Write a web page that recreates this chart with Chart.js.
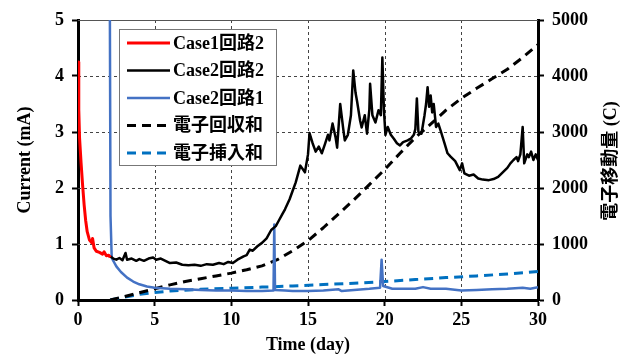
<!DOCTYPE html>
<html>
<head>
<meta charset="utf-8">
<script src="https://cdn.jsdelivr.net/npm/chart.js@4.4.1/dist/chart.umd.min.js"></script>
<style>
html, body { margin: 0; padding: 0; background: #fff; }
</style>
</head>
<body>
<canvas id="CurrentChart" width="621" height="356"></canvas>
<script>
// [day, mA]
const case1_circuit2 = [
    [0, 4.25], [0.05, 3.4], [0.1, 2.9], [0.2, 2.45], [0.3, 2.05], [0.4, 1.7], [0.5, 1.42], [0.6, 1.22],
    [0.75, 1.07], [0.9, 1.02], [0.95, 1.1], [1.05, 0.93], [1.2, 0.87], [1.4, 0.85], [1.6, 0.82],
    [1.7, 0.86], [1.85, 0.79], [2.0, 0.8], [2.1, 0.76]
];

const case2_circuit2 = [
    [2.1, 0.78], [2.3, 0.74], [2.5, 0.72], [2.7, 0.75], [2.9, 0.71], [3.1, 0.84], [3.2, 0.72], [3.5, 0.74],
    [3.8, 0.70], [4.0, 0.73], [4.3, 0.70], [4.6, 0.74], [4.9, 0.76], [5.1, 0.72], [5.4, 0.74], [5.7, 0.70],
    [6.0, 0.66], [6.4, 0.67], [6.8, 0.63], [7.2, 0.62], [7.6, 0.63], [8.0, 0.61], [8.4, 0.64], [8.8, 0.63],
    [9.2, 0.66], [9.5, 0.64], [9.8, 0.68], [10.1, 0.66], [10.4, 0.72], [10.8, 0.78], [11.0, 0.80],
    [11.2, 0.90], [11.4, 0.88], [11.7, 0.96], [12.0, 1.02], [12.3, 1.10], [12.6, 1.25], [12.9, 1.32],
    [13.1, 1.42], [13.3, 1.52], [13.5, 1.62], [13.8, 1.80], [14.0, 1.95], [14.2, 2.10], [14.5, 2.40],
    [14.8, 2.28], [15.0, 2.60], [15.1, 2.98], [15.3, 2.80], [15.5, 2.65], [15.7, 2.74], [15.9, 2.62],
    [16.1, 2.78], [16.3, 2.95], [16.4, 2.85], [16.6, 3.15], [16.8, 2.90], [16.9, 2.72], [17.1, 3.50],
    [17.3, 3.05], [17.4, 2.85], [17.6, 2.95], [17.8, 3.30], [17.95, 4.10], [18.1, 3.70], [18.2, 3.55],
    [18.4, 3.20], [18.5, 3.08], [18.7, 3.30], [18.85, 2.97], [19.0, 3.40], [19.05, 3.86], [19.2, 3.30],
    [19.4, 3.17], [19.6, 3.39], [19.75, 3.30], [19.85, 4.33], [19.95, 3.40], [20.05, 2.95], [20.2, 3.09],
    [20.4, 2.95], [20.6, 2.88], [20.8, 2.80], [21.0, 2.76], [21.2, 2.82], [21.5, 2.85], [21.7, 2.88],
    [21.9, 2.95], [22.0, 3.05], [22.1, 3.60], [22.2, 3.00], [22.4, 2.97], [22.6, 3.30], [22.7, 3.50],
    [22.8, 3.80], [22.9, 3.45], [23.0, 3.65], [23.1, 3.35], [23.2, 3.50], [23.35, 3.09], [23.5, 3.15],
    [23.7, 2.98], [23.9, 2.80], [24.1, 2.62], [24.3, 2.56], [24.6, 2.48], [24.9, 2.32], [25.05, 2.44],
    [25.2, 2.26], [25.5, 2.22], [25.8, 2.24], [26.1, 2.17], [26.4, 2.15], [26.8, 2.14], [27.1, 2.16],
    [27.4, 2.20], [27.7, 2.28], [28.0, 2.36], [28.2, 2.44], [28.4, 2.50], [28.6, 2.55], [28.7, 2.48],
    [28.85, 2.60], [29.0, 3.09], [29.1, 2.44], [29.3, 2.60], [29.4, 2.55], [29.55, 2.65], [29.7, 2.50],
    [29.85, 2.60], [30.0, 2.50]
];

const case2_circuit1 = [
    [2.08, 5.0], [2.12, 1.5], [2.2, 0.75], [2.5, 0.6], [2.8, 0.5], [3.2, 0.4], [3.6, 0.33], [4.0, 0.28],
    [4.5, 0.24], [5, 0.22], [6, 0.2], [7, 0.19], [8, 0.18], [9, 0.17], [10, 0.17], [11, 0.16], [12, 0.16],
    [12.75, 0.17], [12.8, 1.35], [12.85, 0.18], [13.5, 0.17], [14, 0.16], [15, 0.16], [16, 0.17],
    [17, 0.19], [17.2, 0.16], [18, 0.18], [19, 0.2], [19.7, 0.22], [19.8, 0.72], [19.9, 0.25],
    [20.5, 0.2], [21, 0.2], [22, 0.2], [22.5, 0.23], [23, 0.2], [24, 0.2], [25, 0.17], [26, 0.18],
    [27, 0.19], [28, 0.2], [29, 0.22], [29.5, 0.2], [30, 0.23]
];

// [day, C]
const charge_collected = [
    [2.1, 0], [3, 60], [4, 130], [5, 200], [6, 270], [7, 330], [8, 380], [9, 430], [10, 480], [11, 540],
    [12, 610], [13, 720], [14, 880], [15, 1060], [16, 1290], [17, 1540], [18, 1790], [19, 2060],
    [20, 2330], [21, 2620], [22, 2900], [23, 3140], [24, 3390], [25, 3600], [26, 3780], [27, 3950],
    [28, 4120], [29, 4330], [30, 4560]
];

const charge_inserted = [
    [2.1, 0], [3, 50], [4, 100], [5, 135], [6, 160], [8, 190], [10, 210], [12, 230], [14, 250],
    [16, 275], [18, 300], [20, 330], [22, 365], [24, 400], [26, 430], [28, 465], [30, 510]
];

const series_labels = ['Case1回路2', 'Case2回路2', 'Case2回路1', '電子回収和', '電子挿入和'];
const right_title = '電子移動量 (C)';

const FONT = '"Liberation Serif", "Times New Roman", "Noto Sans CJK JP", serif';

function to_points(pairs) {
    return pairs.map(p => ({x: p[0], y: p[1]}));
}

// dashed grid drawn from the scales' own ticks
const dashed_grid = {
    id: 'dashed_grid',
    beforeDatasetsDraw(chart) {
        const ctx = chart.ctx;
        const area = chart.chartArea;
        const xs = chart.scales.x;
        const ys = chart.scales.y;
        ctx.save();
        ctx.strokeStyle = '#444';
        ctx.lineWidth = 1;
        ctx.setLineDash([3, 3]);
        xs.ticks.forEach(t => {
            if (t.value <= xs.min || t.value >= xs.max) return;
            const px = Math.round(xs.getPixelForValue(t.value)) + 0.5;
            ctx.beginPath();
            ctx.moveTo(px, area.top);
            ctx.lineTo(px, area.bottom);
            ctx.stroke();
        });
        ys.ticks.forEach(t => {
            if (t.value <= ys.min || t.value >= ys.max) return;
            const py = Math.round(ys.getPixelForValue(t.value)) + 0.5;
            ctx.beginPath();
            ctx.moveTo(area.left, py);
            ctx.lineTo(area.right, py);
            ctx.stroke();
        });
        ctx.setLineDash([]);
        // top frame
        ctx.strokeStyle = '#555';
        ctx.beginPath();
        ctx.moveTo(area.left, area.top + 0.5);
        ctx.lineTo(area.right, area.top + 0.5);
        ctx.stroke();
        ctx.restore();
    }
};

const extras = {
    id: 'extras',
    afterDatasetsDraw(chart) {
        const ctx = chart.ctx;
        ctx.save();
        // legend box
        ctx.fillStyle = '#fff';
        ctx.fillRect(119.5, 29.5, 157, 136);
        ctx.strokeStyle = '#777';
        ctx.lineWidth = 1;
        ctx.strokeRect(119.5, 29.5, 157, 136);
        ctx.font = 'bold 18px ' + FONT;
        ctx.textBaseline = 'middle';
        ctx.textAlign = 'left';
        chart.data.datasets.forEach((ds, i) => {
            const cy = 43 + i * 27.5;
            ctx.strokeStyle = ds.borderColor;
            ctx.lineWidth = ds.borderWidth;
            ctx.setLineDash(ds.borderDash || []);
            ctx.beginPath();
            ctx.moveTo(127, cy);
            ctx.lineTo(170, cy);
            ctx.stroke();
            ctx.setLineDash([]);
            ctx.fillStyle = '#000';
            ctx.fillText(ds.label, 173, cy + 1);
        });

        // right axis title
        ctx.translate(611, 161);
        ctx.rotate(-Math.PI / 2);
        ctx.textAlign = 'center';
        ctx.fillText(right_title, 0, 0);
        ctx.restore();
    }
};

const tick_font = {family: FONT, size: 18, weight: 'bold'};

new Chart(document.getElementById('CurrentChart'), {
    type: 'line',
    data: {
        datasets: [
            {
                label: series_labels[0],
                data: to_points(case1_circuit2),
                borderColor: 'rgb(255,0,0)',
                borderWidth: 3,
                yAxisID: 'y',
            },
            {
                label: series_labels[1],
                data: to_points(case2_circuit2),
                borderColor: 'rgb(0,0,0)',
                borderWidth: 2.5,
                yAxisID: 'y',
            },
            {
                label: series_labels[2],
                data: to_points(case2_circuit1),
                borderColor: 'rgb(68,114,196)',
                borderWidth: 2.5,
                yAxisID: 'y',
            },
            {
                label: series_labels[3],
                data: to_points(charge_collected),
                borderColor: 'rgb(0,0,0)',
                borderWidth: 3,
                borderDash: [9, 6],
                yAxisID: 'y2',
            },
            {
                label: series_labels[4],
                data: to_points(charge_inserted),
                borderColor: 'rgb(0,112,192)',
                borderWidth: 3,
                borderDash: [9, 6],
                yAxisID: 'y2',
            }
        ]
    },
    options: {
        responsive: false,
        animation: false,
        layout: {
            padding: {top: 20, left: 0, right: 0, bottom: 0}
        },
        elements: {
            point: {radius: 0},
            line: {tension: 0, borderJoinStyle: 'round'}
        },
        scales: {
            x: {
                type: 'linear',
                min: 0,
                max: 30,
                afterFit: (scale) => { scale.height = 56; },
                ticks: {stepSize: 5, color: '#000', font: tick_font, padding: 4, maxRotation: 0},
                grid: {drawOnChartArea: false, tickColor: '#000', tickLength: 6, tickWidth: 2},
                border: {color: '#000', width: 3},
                title: {
                    display: true,
                    text: 'Time (day)',
                    color: '#000',
                    font: {family: FONT, size: 18, weight: 'bold', lineHeight: 1.2},
                    padding: {top: 0, bottom: 0}
                }
            },
            y: {
                position: 'left',
                min: 0,
                max: 5,
                afterFit: (scale) => { scale.width = 78; },
                ticks: {stepSize: 1, color: '#000', font: tick_font, padding: 8},
                grid: {drawOnChartArea: false, tickColor: '#000', tickLength: 6, tickWidth: 2},
                border: {color: '#000', width: 3},
                title: {
                    display: true,
                    text: 'Current (mA)',
                    color: '#000',
                    font: {family: FONT, size: 18, weight: 'bold', lineHeight: 1.2},
                    padding: {top: 15, bottom: 0}
                }
            },
            y2: {
                position: 'right',
                min: 0,
                max: 5000,
                afterFit: (scale) => { scale.width = 83; },
                ticks: {
                    stepSize: 1000,
                    color: '#000',
                    font: tick_font,
                    padding: 8,
                    callback: (value) => String(value)
                },
                grid: {drawOnChartArea: false, tickColor: '#000', tickLength: 6, tickWidth: 2},
                border: {color: '#000', width: 3}
            }
        },
        plugins: {
            legend: {display: false},
            tooltip: {enabled: false}
        }
    },
    plugins: [dashed_grid, extras]
});
</script>
</body>
</html>
